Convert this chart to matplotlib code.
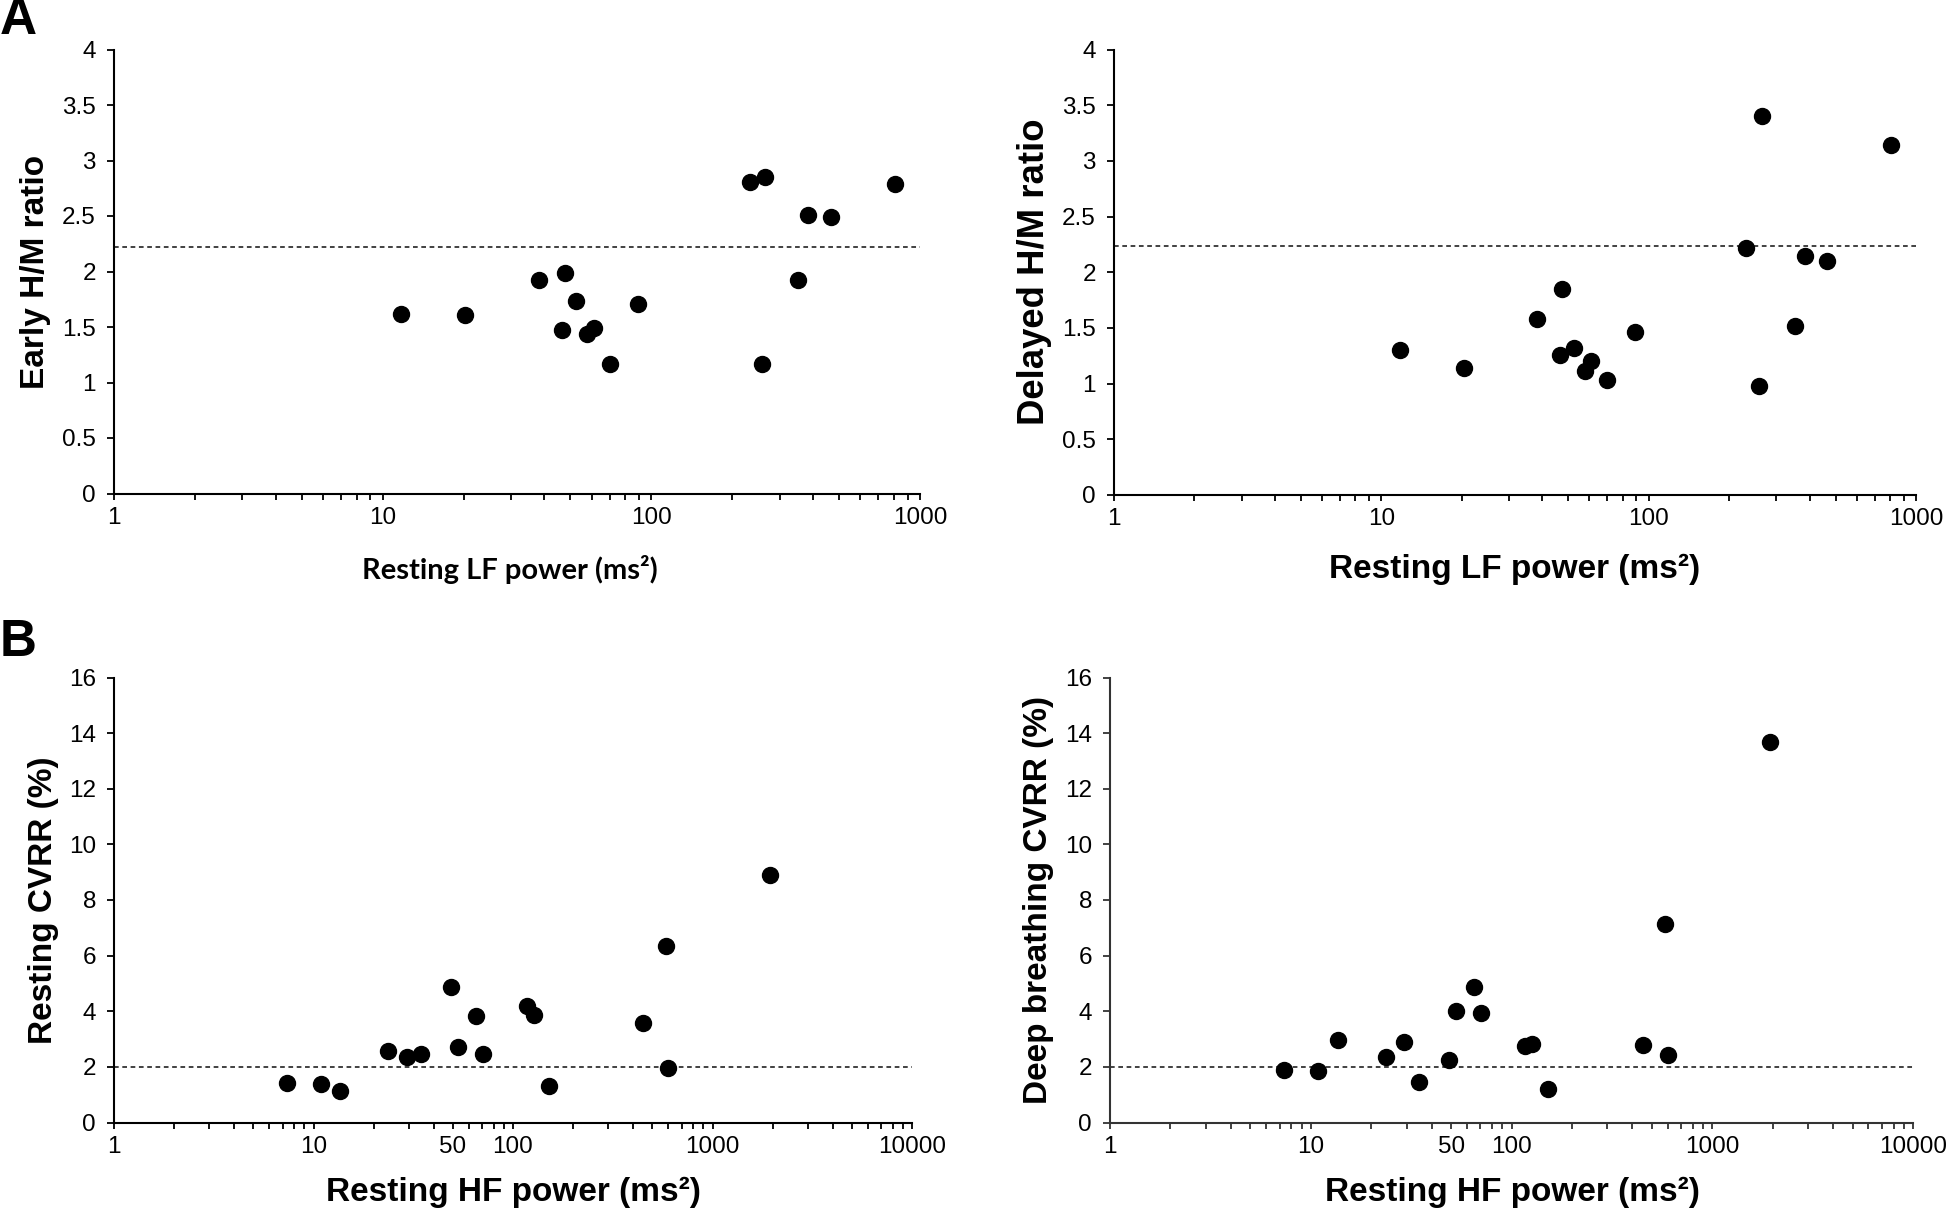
import matplotlib
matplotlib.use('Agg')
import matplotlib.pyplot as plt
from matplotlib.ticker import FixedLocator, NullFormatter

# ---------------- data ----------------
lf_power = [11.7, 20.3, 38.2, 46.5, 47.6, 52.5, 57.6, 61.0, 70.0, 89.0,
            232, 258, 265, 352, 384, 466, 804]
early_hm = [1.62, 1.61, 1.92, 1.47, 1.99, 1.73, 1.44, 1.49, 1.17, 1.71,
            2.81, 1.17, 2.85, 1.92, 2.51, 2.49, 2.79]
delayed_hm = [1.30, 1.14, 1.58, 1.26, 1.85, 1.32, 1.11, 1.20, 1.03, 1.46,
              2.22, 0.98, 3.40, 1.515, 2.145, 2.10, 3.14]
early_cut = 2.22
delayed_cut = 2.24

hf_power = [7.4, 10.85, 13.6, 23.6, 29.3, 34.6, 49.0, 52.8, 65.0, 70.8,
            117, 127, 152, 450, 582, 600, 1945]
rest_cvrr = [1.43, 1.40, 1.14, 2.57, 2.36, 2.47, 4.88, 2.71, 3.84, 2.47,
             4.18, 3.86, 1.30, 3.59, 6.33, 1.95, 8.89]
deep_cvrr = [1.88, 1.84, 2.96, 2.36, 2.91, 1.47, 2.23, 4.00, 4.88, 3.93,
             2.74, 2.81, 1.21, 2.78, 7.12, 2.44, 13.67]
cvrr_cut = 2.0

lf_ticks = [1, 10, 100, 1000]
lf_ticklabels = ['1', '10', '100', '1000']
hf_ticks = [1, 10, 50, 100, 1000, 10000]
hf_ticklabels = ['1', '10', '50', '100', '1000', '10000']
hm_yticks = [0, 0.5, 1, 1.5, 2, 2.5, 3, 3.5, 4]
hm_yticklabels = ['0', '0.5', '1', '1.5', '2', '2.5', '3', '3.5', '4']
cvrr_yticks = [0, 2, 4, 6, 8, 10, 12, 14, 16]
cvrr_yticklabels = [str(v) for v in cvrr_yticks]

# ---------------- figure ----------------
W, H = 1952, 1212
plt.rcParams['font.family'] = ['Liberation Sans', 'DejaVu Sans']
fig = plt.figure(figsize=(W / 100, H / 100), dpi=100)


def px_axes(left, right, top, bottom):
    return fig.add_axes([left / W, 1 - bottom / H, (right - left) / W, (bottom - top) / H])


def style(ax, xmax, xticks, xlabels, yticks, ylabels, ymax, spine_color='black'):
    ax.set_xscale('log')
    ax.set_xlim(1, xmax)
    ax.set_ylim(0, ymax)
    for s in ('top', 'right'):
        ax.spines[s].set_visible(False)
    for s in ('left', 'bottom'):
        ax.spines[s].set_linewidth(1.5)
        ax.spines[s].set_color(spine_color)
    ax.xaxis.set_major_locator(FixedLocator(xticks))
    ax.set_xticklabels(xlabels)
    ax.xaxis.set_minor_formatter(NullFormatter())
    ax.set_yticks(yticks)
    ax.set_yticklabels(ylabels)
    ax.tick_params(axis='x', which='both', direction='out', length=4.5, width=1.3,
                   labelsize=17.5, pad=5, color=spine_color)
    ax.tick_params(axis='y', which='major', direction='out', length=5, width=1.3,
                   labelsize=17.5, pad=8, color=spine_color)


def scatter(ax, x, y, cut):
    ax.axhline(cut, color='#333333', lw=1.3, ls=(0, (2.6, 2.0)), zorder=1)
    ax.plot(x, y, 'o', color='black', ms=11.5, mec='black', zorder=3, clip_on=False)


# Panel A left
axA1 = px_axes(114, 920, 49.5, 493.5)
style(axA1, 1000, lf_ticks, lf_ticklabels, hm_yticks, hm_yticklabels, 4)
scatter(axA1, lf_power, early_hm, early_cut)

# Panel A right
axA2 = px_axes(1114, 1916, 49.5, 495)
style(axA2, 1000, lf_ticks, lf_ticklabels, hm_yticks, hm_yticklabels, 4)
scatter(axA2, lf_power, delayed_hm, delayed_cut)

# Panel B left
axB1 = px_axes(114, 912, 677.5, 1122.5)
style(axB1, 10000, hf_ticks, hf_ticklabels, cvrr_yticks, cvrr_yticklabels, 16)
scatter(axB1, hf_power, rest_cvrr, cvrr_cut)

# Panel B right
axB2 = px_axes(1110, 1913, 677.5, 1122.5)
style(axB2, 10000, hf_ticks, hf_ticklabels, cvrr_yticks, cvrr_yticklabels, 16, spine_color='#333333')
scatter(axB2, hf_power, deep_cvrr, cvrr_cut)

# y labels
ylab_kw = dict(rotation=90, ha='center', va='center', fontweight='bold')
fig.text(36 / W, 1 - 271.5 / H, 'Early H/M ratio', fontsize=24, **ylab_kw)
fig.text(1034 / W, 1 - 272 / H, 'Delayed H/M ratio', fontsize=26.3, **ylab_kw)
fig.text(44 / W, 1 - 900 / H, 'Resting CVRR (%)', fontsize=24, **ylab_kw)
fig.text(1039 / W, 1 - 900 / H, 'Deep breathing CVRR (%)', fontsize=24, **ylab_kw)

# x labels
fig.text(510 / W, 1 - 569 / H, 'Resting LF power (ms²)', ha='center', va='center',
         fontsize=21, fontweight='bold', family=['Lato', 'DejaVu Sans'])
xlab_kw = dict(ha='center', va='center', fontsize=24, fontweight='bold')
fig.text(1515 / W, 1 - 569 / H, 'Resting LF power (ms²)', **xlab_kw)
fig.text(513 / W, 1 - 1192 / H, 'Resting HF power (ms²)', **xlab_kw)
fig.text(1512 / W, 1 - 1192 / H, 'Resting HF power (ms²)', **xlab_kw)

# panel letters
fig.text(0 / W, 1 - 21 / H, 'A', ha='left', va='center', fontsize=37, fontweight='bold')
fig.text(0 / W, 1 - 643 / H, 'B', ha='left', va='center', fontsize=37, fontweight='bold')

fig.savefig('out.png', dpi=100)
